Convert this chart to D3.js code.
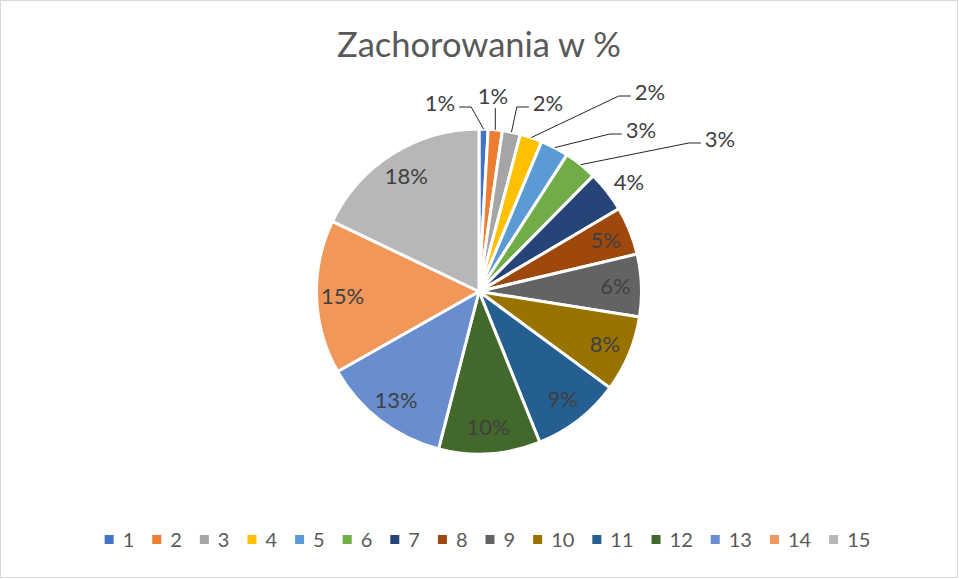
<!DOCTYPE html>
<html>
<head>
<meta charset="utf-8">
<script src="https://cdn.jsdelivr.net/npm/d3@7"></script>
<style>
  body { margin: 0; background: #fff; }
  text { font-family: Lato, 'Noto Sans', sans-serif; }
</style>
</head>
<body>
<svg id="chart"></svg>
<script>
// Data (share of cases per group, in %)
const categories = ['1', '2', '3', '4', '5', '6', '7', '8', '9', '10', '11', '12', '13', '14', '15'];
const values = [0.9, 1.4, 1.8, 2.2, 2.8, 3.3, 4.1, 4.8, 6.2, 7.6, 8.8, 10.1, 12.8, 15.3, 17.9];
const colors = [
  '#4472C4', '#ED7D31', '#A5A5A5', '#FFC000', '#5B9BD5', '#70AD47', '#264478',
  '#9E480E', '#636363', '#997300', '#255E91', '#43682B', '#698ED0', '#F1975A', '#B7B7B7',
];
const title = 'Zachorowania w %';

// Where Excel's "best fit" pushed the labels of the thin slices
// (offset of the label centre from the pie centre, and whether it has a leader line)
const outsideLabels = new Map([
  [0, { dx: -39, dy: -188, line: true }],
  [1, { dx: 14, dy: -195, line: true }],
  [2, { dx: 69, dy: -188, line: true }],
  [3, { dx: 171, dy: -199, line: true }],
  [4, { dx: 162, dy: -161, line: true }],
  [5, { dx: 241, dy: -152, line: true }],
  [6, { dx: 150, dy: -109, line: false }],
]);

const width = 959;
const height = 579;
const cx = 479;
const cy = 291.5;
const radius = 162.5;

const svg = d3.select('#chart').attr('width', width).attr('height', height);

// chart area border
svg
  .append('rect')
  .attr('x', 0.5)
  .attr('y', 0.5)
  .attr('width', width - 2)
  .attr('height', height - 2)
  .attr('fill', '#fff')
  .attr('stroke', '#D9D9D9');

svg
  .append('text')
  .attr('x', cx)
  .attr('y', 57)
  .attr('text-anchor', 'middle')
  .attr('font-size', 34.5)
  .attr('fill', '#595959')
  .text(title);

const total = d3.sum(values);
const pie = d3.pie().sort(null).value((d) => d);
const arcs = pie(values);

const arc = d3.arc().innerRadius(0).outerRadius(radius);
const labelArc = d3.arc().innerRadius(radius * 0.84).outerRadius(radius * 0.84);
const edgeArc = d3.arc().innerRadius(radius).outerRadius(radius);

const g = svg.append('g').attr('transform', `translate(${cx},${cy})`);

g.selectAll('path')
  .data(arcs)
  .join('path')
  .attr('d', arc)
  .attr('fill', (d, i) => colors[i])
  .attr('stroke', '#fff')
  .attr('stroke-width', 3)
  .attr('stroke-linejoin', 'round');

const labelPos = (d, i) => {
  const o = outsideLabels.get(i);
  return o ? [o.dx, o.dy] : labelArc.centroid(d);
};

const labels = g
  .selectAll('text.label')
  .data(arcs)
  .join('text')
  .attr('class', 'label')
  .attr('x', (d, i) => labelPos(d, i)[0])
  .attr('y', (d, i) => labelPos(d, i)[1])
  .attr('dy', '0.35em')
  .attr('text-anchor', 'middle')
  .attr('font-size', 22)
  .attr('fill', '#404040')
  .text((d) => Math.round((d.value / total) * 100) + '%');

// leader lines for the labels that sit outside the pie
labels.each(function (d, i) {
  const o = outsideLabels.get(i);
  if (!o || !o.line) return;
  const box = this.getBBox();
  const [sx, sy] = edgeArc.centroid(d);
  let pts;
  if (sx > box.x && sx < box.x + box.width) {
    pts = [[sx, sy], [sx, box.y + box.height - 1]];
  } else {
    const side = box.x > sx ? 1 : -1;
    const ex = side > 0 ? box.x - 4 : box.x + box.width + 4;
    const ly = o.dy + 3.5;
    pts = [[sx, sy], [ex - side * 12, ly], [ex, ly]];
  }
  g.append('path')
    .attr('d', d3.line()(pts))
    .attr('fill', 'none')
    .attr('stroke', '#262626')
    .attr('stroke-width', 1);
});

// legend
const legend = svg.append('g');
const items = legend.selectAll('g').data(categories).join('g');
items
  .append('rect')
  .attr('y', -4.5)
  .attr('width', 9)
  .attr('height', 9)
  .attr('fill', (d, i) => colors[i]);
items
  .append('text')
  .attr('x', 18)
  .attr('dy', '0.35em')
  .attr('font-size', 20)
  .attr('fill', '#595959')
  .text((d) => d);

let lx = 0;
items.each(function () {
  const w = this.querySelector('text').getComputedTextLength();
  d3.select(this).attr('transform', `translate(${lx},0)`);
  lx += 18 + w + 18;
});
const legendWidth = lx - 18;
legend.attr('transform', `translate(${487.5 - legendWidth / 2},539.5)`);
</script>
</body>
</html>
